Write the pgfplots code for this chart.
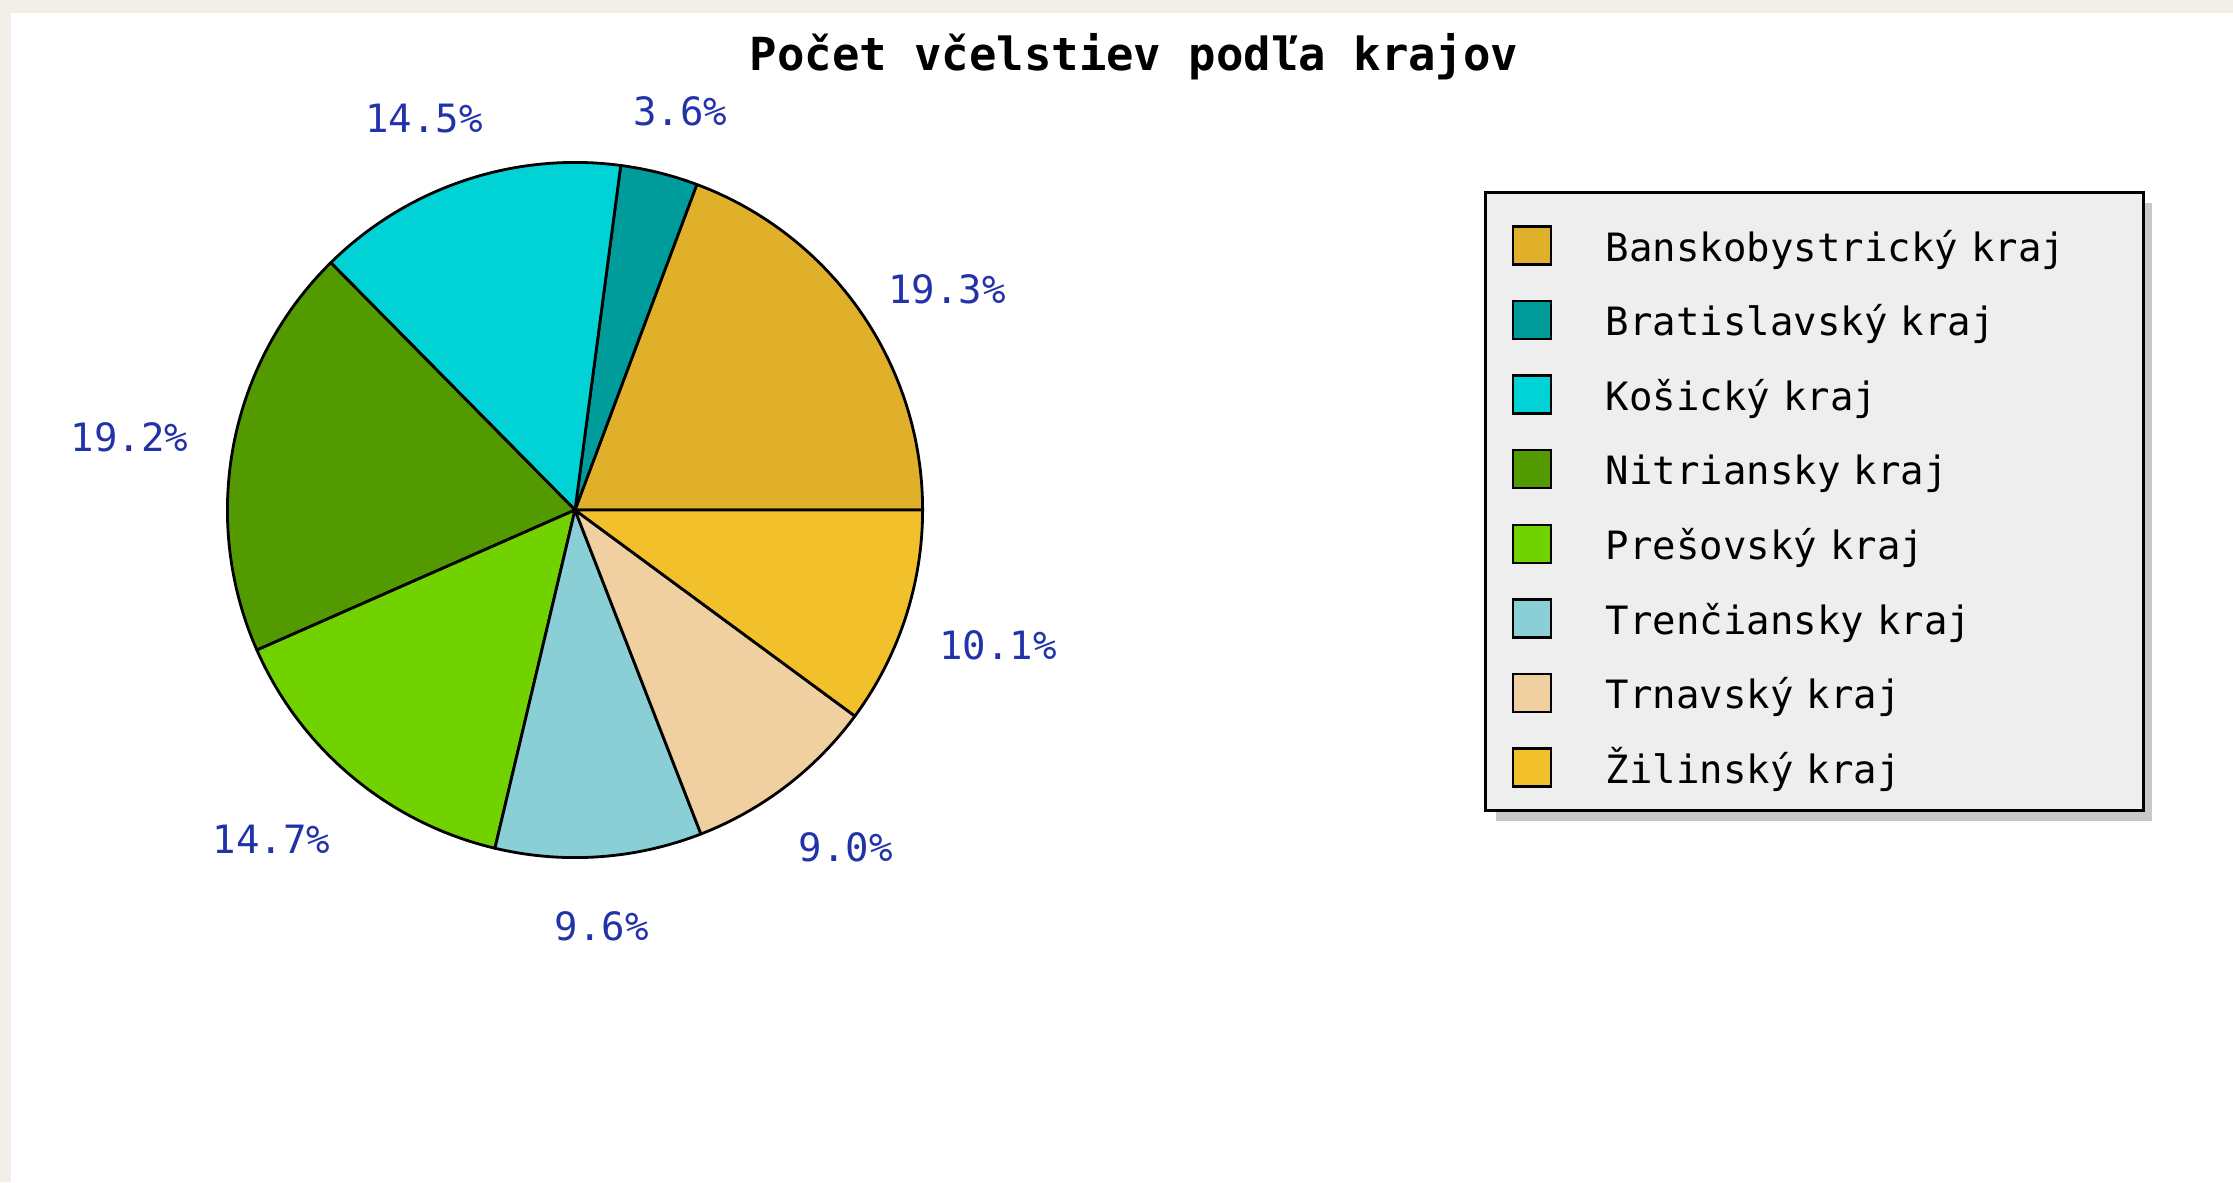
\documentclass[border=0pt]{standalone}
\usepackage{pgfplots}
\pgfplotsset{compat=1.18}
\usepackage{fontspec}
\setmainfont{DejaVu Sans Mono}
\definecolor{pBB}{HTML}{E0B02A}
\definecolor{pBA}{HTML}{009C9C}
\definecolor{pKE}{HTML}{00D2D6}
\definecolor{pNR}{HTML}{529A00}
\definecolor{pPO}{HTML}{72D200}
\definecolor{pTN}{HTML}{8ACED6}
\definecolor{pTT}{HTML}{F0D0A0}
\definecolor{pZA}{HTML}{F2C02B}
\definecolor{lblblue}{HTML}{2233AA}
\definecolor{bgbeige}{HTML}{F2EFE9}
\definecolor{leggray}{HTML}{EEEEEE}
\definecolor{shadowgray}{HTML}{C8C8C8}
\tikzset{lbl/.style={text=lblblue, font=\fontsize{9.75}{10}\selectfont, inner sep=0pt, anchor=center}}
\begin{document}
\begin{tikzpicture}
\begin{axis}[
  x=0.25pt, y=0.25pt, xmin=0, xmax=2233, ymin=0, ymax=1182,
  hide axis, clip=false,
  legend cell align=left,
  legend image code/.code={\draw[#1] (0pt,-6pt) rectangle (9.5pt,3.5pt);},
  legend style={
    at={(axis cs:1484,991)}, anchor=north west,
    draw=black, line width=0.75pt, fill=leggray,
    inner xsep=6.5pt, inner ysep=4.65pt,
    row sep=4.05pt, column sep=13.5pt,
    font=\fontsize{9.75}{10}\selectfont,
    nodes={inner sep=0pt, text height=12.5pt, text depth=2.1pt},
    /tikz/every even column/.append style={text width=128pt},
  },
]
\fill[bgbeige] (axis cs:0,0) rectangle (axis cs:2233,1182);
\fill[white] (axis cs:11,0) rectangle (axis cs:2233,1169);
% legend shadow
\fill[shadowgray] (axis cs:1496,361) rectangle (axis cs:2152,979);
\node[font=\fontsize{11.4}{12}\selectfont\bfseries, inner sep=0pt, anchor=center]
  at (axis cs:1134,1125) {Počet včelstiev podľa krajov};
\gdef\cum{0}
% value / colour / label angle / label distance
\foreach \v/\c/\la/\ld in {19.3/pBB/30.7/108.1, 3.6/pBA/75.2/103.1, 14.5/pKE/111.1/104.9,
    19.2/pNR/170.7/112.9, 14.7/pPO/227.3/111.9, 9.6/pTN/273.7/104.2,
    9.0/pTT/308.7/108.2, 10.1/pZA/342.3/111.0} {
  \pgfmathsetmacro\s{\cum}
  \pgfmathsetmacro\e{\cum+3.6*\v}
  \edef\temp{%
    \noexpand\filldraw[fill=\c, draw=black, line width=0.7pt, line join=round]
      (axis cs:575,672) -- ++(\s:86.9pt) arc[start angle=\s, end angle=\e, radius=86.9pt] -- cycle;
    \noexpand\path (axis cs:575,672) ++(\la:\ld pt) node[lbl] {\v\noexpand\%};
  }%
  \temp
  \global\let\cum\e
}
\addlegendimage{fill=pBB, draw=black, line width=0.6pt}
\addlegendentry{Banskobystrický kraj}
\addlegendimage{fill=pBA, draw=black, line width=0.6pt}
\addlegendentry{Bratislavský kraj}
\addlegendimage{fill=pKE, draw=black, line width=0.6pt}
\addlegendentry{Košický kraj}
\addlegendimage{fill=pNR, draw=black, line width=0.6pt}
\addlegendentry{Nitriansky kraj}
\addlegendimage{fill=pPO, draw=black, line width=0.6pt}
\addlegendentry{Prešovský kraj}
\addlegendimage{fill=pTN, draw=black, line width=0.6pt}
\addlegendentry{Trenčiansky kraj}
\addlegendimage{fill=pTT, draw=black, line width=0.6pt}
\addlegendentry{Trnavský kraj}
\addlegendimage{fill=pZA, draw=black, line width=0.6pt}
\addlegendentry{Žilinský kraj}
\end{axis}
\end{tikzpicture}
\end{document}
